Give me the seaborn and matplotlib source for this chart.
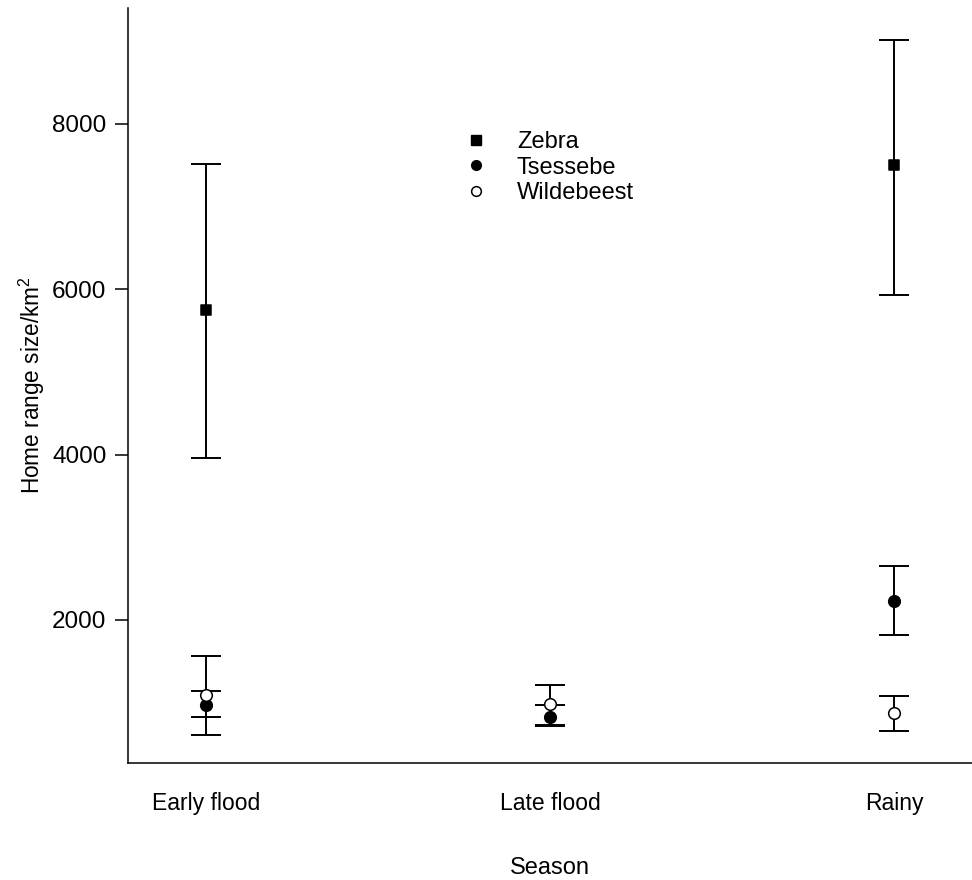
import numpy as np
import pandas as pd
import seaborn as sns
import matplotlib
matplotlib.use("Agg")
import matplotlib.pyplot as plt
from matplotlib.lines import Line2D

# ---- data ----
seasons = ["Early flood", "Late flood", "Rainy"]
species = ["Zebra", "Tsessebe", "Wildebeest"]

zebra_mean = [5750, np.nan, 7500]
zebra_low = [3960, np.nan, 5930]
zebra_high = [7510, np.nan, 9010]

tsessebe_mean = [970, 826, 2226]
tsessebe_low = [826, 722, 1819]
tsessebe_high = [1137, 974, 2651]

wildebeest_mean = [1089, 986, 875]
wildebeest_low = [605, 730, 662]
wildebeest_high = [1564, 1210, 1085]

yticks = [2000, 4000, 6000, 8000]

# ---- build long table ----
rows = []
for sp, m, lo, hi in [("Zebra", zebra_mean, zebra_low, zebra_high),
                      ("Tsessebe", tsessebe_mean, tsessebe_low, tsessebe_high),
                      ("Wildebeest", wildebeest_mean, wildebeest_low, wildebeest_high)]:
    for s, mv, l, h in zip(seasons, m, lo, hi):
        if not np.isnan(mv):
            rows.append(dict(Season=s, Species=sp, mean=mv, low=l, high=h))
df = pd.DataFrame(rows)

sns.set_style("white")
plt.rcParams["font.family"] = ["Liberation Sans", "DejaVu Sans"]
plt.rcParams.update({"text.color": "black", "axes.labelcolor": "black",
                     "xtick.color": "black", "ytick.color": "black"})

fig = plt.figure(figsize=(9.72, 8.8), dpi=100)
ax = fig.add_axes([128 / 972, 1 - 763 / 880, 1 - 128 / 972, (763 - 8) / 880])

# register category order
ax.plot(seasons, [np.nan] * 3)

# error bars
for sp in species:
    d = df[df.Species == sp]
    ax.errorbar(d.Season, d["mean"],
                yerr=[d["mean"] - d["low"], d["high"] - d["mean"]],
                fmt="none", ecolor="black", elinewidth=1.4, capsize=10.8,
                capthick=1.4, zorder=2)

styles = {
    "Zebra": dict(marker="s", facecolor="black", s=55),
    "Tsessebe": dict(marker="o", facecolor="black", s=70),
    "Wildebeest": dict(marker="o", facecolor="white", s=70),
}
for sp in species:
    d = df[df.Species == sp]
    st = styles[sp]
    sns.scatterplot(data=d, x="Season", y="mean", marker=st["marker"],
                    s=st["s"], color=st["facecolor"], edgecolor="black",
                    linewidth=1.1, ax=ax, zorder=3, legend=False)

ax.set_xlim(-0.227, 2.227)
ax.set_ylim(270, 9402)
ax.set_yticks(yticks)
ax.set_yticklabels([str(t) for t in yticks], fontsize=17.5)
ax.set_xticks(range(len(seasons)))
ax.set_xticklabels(seasons, fontsize=16.5)
ax.tick_params(axis="y", left=True, length=9.5, width=1.1, color="black", pad=6)
ax.tick_params(axis="x", bottom=False, length=0, pad=21)

ax.set_xlabel("Season", fontsize=17, labelpad=30)
ax.set_ylabel("Home range size/km$^\\mathregular{2}$", fontsize=16.3, labelpad=4)

for side in ["top", "right"]:
    ax.spines[side].set_visible(False)
for side in ["left", "bottom"]:
    ax.spines[side].set_color("black")
    ax.spines[side].set_linewidth(1.1)

handles = [
    Line2D([], [], ls="none", marker="s", color="black", markersize=7),
    Line2D([], [], ls="none", marker="o", color="black", markersize=7),
    Line2D([], [], ls="none", marker="o", markerfacecolor="white",
           markeredgecolor="black", markersize=7, markeredgewidth=1.1),
]
fig.legend(handles, species, loc="upper left",
           bbox_to_anchor=(452 / 972, 1 - 131 / 880), frameon=False,
           fontsize=17, borderpad=0, borderaxespad=0, labelspacing=0.15,
           handlelength=2.0, handletextpad=0.75)

fig.savefig("out.png", dpi=100)
